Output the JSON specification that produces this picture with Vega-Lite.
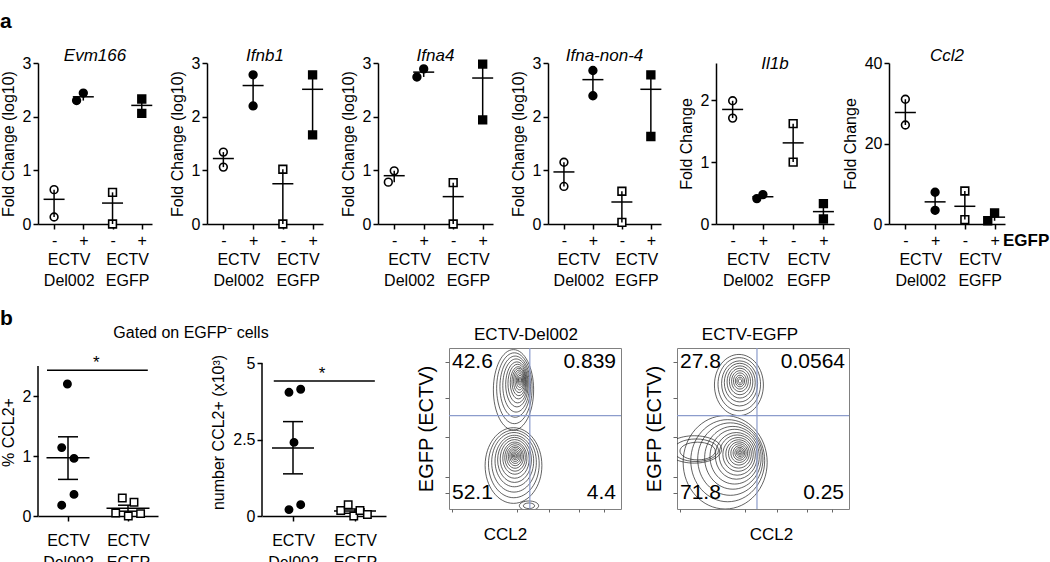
{
"$schema": "https://vega.github.io/schema/vega-lite/v6.json",
"background": "white",
"padding": {"left": 0, "top": 11, "right": 0, "bottom": 0},
"config": {
 "font": "Liberation Sans",
 "view": {"stroke": null},
 "axis": {"grid": false, "labelOverlap": false, "domainColor": "black", "domainWidth": 1.5, "tickColor": "black", "tickWidth": 1.5, "tickSize": 5, "labelFontSize": 16, "labelColor": "black", "titleFontSize": 16, "titleFontWeight": "normal", "titleColor": "black", "labelFont": "Liberation Sans", "titleFont": "Liberation Sans"},
 "title": {"fontSize": 17, "fontWeight": "normal", "font": "Liberation Sans", "color": "black"}
},
"resolve": {"scale": {"shape": "independent", "fill": "independent", "size": "independent"}},
"datasets": {
 "pa": [
  {"g":"Evm166","v":"Del002","e":"-","x":1,"y":0.64},{"g":"Evm166","v":"Del002","e":"-","x":1,"y":0.13},
  {"g":"Evm166","v":"Del002","e":"+","x":2,"y":2.44},{"g":"Evm166","v":"Del002","e":"+","x":1.77,"y":2.30},
  {"g":"Evm166","v":"EGFP","e":"-","x":3,"y":0.59},{"g":"Evm166","v":"EGFP","e":"-","x":3,"y":0.0},
  {"g":"Evm166","v":"EGFP","e":"+","x":4,"y":2.33},{"g":"Evm166","v":"EGFP","e":"+","x":4,"y":2.06},
  {"g":"Ifnb1","v":"Del002","e":"-","x":1,"y":1.34},{"g":"Ifnb1","v":"Del002","e":"-","x":1,"y":1.06},
  {"g":"Ifnb1","v":"Del002","e":"+","x":2,"y":2.78},{"g":"Ifnb1","v":"Del002","e":"+","x":2,"y":2.20},
  {"g":"Ifnb1","v":"EGFP","e":"-","x":3,"y":1.02},{"g":"Ifnb1","v":"EGFP","e":"-","x":3,"y":0.0},
  {"g":"Ifnb1","v":"EGFP","e":"+","x":4,"y":2.78},{"g":"Ifnb1","v":"EGFP","e":"+","x":4,"y":1.66},
  {"g":"Ifna4","v":"Del002","e":"-","x":1,"y":0.99},{"g":"Ifna4","v":"Del002","e":"-","x":0.8,"y":0.78},
  {"g":"Ifna4","v":"Del002","e":"+","x":2,"y":2.89},{"g":"Ifna4","v":"Del002","e":"+","x":1.77,"y":2.74},
  {"g":"Ifna4","v":"EGFP","e":"-","x":3,"y":0.77},{"g":"Ifna4","v":"EGFP","e":"-","x":3,"y":0.0},
  {"g":"Ifna4","v":"EGFP","e":"+","x":4,"y":2.98},{"g":"Ifna4","v":"EGFP","e":"+","x":4,"y":1.94},
  {"g":"Ifna-non-4","v":"Del002","e":"-","x":1,"y":1.15},{"g":"Ifna-non-4","v":"Del002","e":"-","x":1,"y":0.70},
  {"g":"Ifna-non-4","v":"Del002","e":"+","x":2,"y":2.86},{"g":"Ifna-non-4","v":"Del002","e":"+","x":2,"y":2.39},
  {"g":"Ifna-non-4","v":"EGFP","e":"-","x":3,"y":0.61},{"g":"Ifna-non-4","v":"EGFP","e":"-","x":3,"y":0.03},
  {"g":"Ifna-non-4","v":"EGFP","e":"+","x":4,"y":2.78},{"g":"Ifna-non-4","v":"EGFP","e":"+","x":4,"y":1.63},
  {"g":"Il1b","v":"Del002","e":"-","x":1,"y":1.99},{"g":"Il1b","v":"Del002","e":"-","x":1,"y":1.71},
  {"g":"Il1b","v":"Del002","e":"+","x":2,"y":0.475},{"g":"Il1b","v":"Del002","e":"+","x":1.8,"y":0.41},
  {"g":"Il1b","v":"EGFP","e":"-","x":3,"y":1.62},{"g":"Il1b","v":"EGFP","e":"-","x":3,"y":1.0},
  {"g":"Il1b","v":"EGFP","e":"+","x":4,"y":0.33},{"g":"Il1b","v":"EGFP","e":"+","x":4,"y":0.08},
  {"g":"Ccl2","v":"Del002","e":"-","x":1,"y":31.0},{"g":"Ccl2","v":"Del002","e":"-","x":1,"y":24.6},
  {"g":"Ccl2","v":"Del002","e":"+","x":2,"y":7.9},{"g":"Ccl2","v":"Del002","e":"+","x":2,"y":3.4},
  {"g":"Ccl2","v":"EGFP","e":"-","x":3,"y":8.2},{"g":"Ccl2","v":"EGFP","e":"-","x":3,"y":1.1},
  {"g":"Ccl2","v":"EGFP","e":"+","x":4,"y":2.75},{"g":"Ccl2","v":"EGFP","e":"+","x":3.77,"y":0.8}
 ],
 "sa": [
  {"g":"Evm166","x":1,"m":0.46,"lo":0.13,"hi":0.64},{"g":"Evm166","x":2,"m":2.37,"lo":2.30,"hi":2.44},{"g":"Evm166","x":3,"m":0.39,"lo":0,"hi":0.59},{"g":"Evm166","x":4,"m":2.21,"lo":2.06,"hi":2.33},
  {"g":"Ifnb1","x":1,"m":1.22,"lo":1.06,"hi":1.34},{"g":"Ifnb1","x":2,"m":2.58,"lo":2.20,"hi":2.78},{"g":"Ifnb1","x":3,"m":0.75,"lo":0,"hi":1.02},{"g":"Ifnb1","x":4,"m":2.51,"lo":1.66,"hi":2.78},
  {"g":"Ifna4","x":1,"m":0.90,"lo":0.78,"hi":0.99},{"g":"Ifna4","x":2,"m":2.83,"lo":2.74,"hi":2.89},{"g":"Ifna4","x":3,"m":0.51,"lo":0,"hi":0.77},{"g":"Ifna4","x":4,"m":2.72,"lo":1.94,"hi":2.98},
  {"g":"Ifna-non-4","x":1,"m":0.97,"lo":0.70,"hi":1.15},{"g":"Ifna-non-4","x":2,"m":2.69,"lo":2.39,"hi":2.86},{"g":"Ifna-non-4","x":3,"m":0.41,"lo":0.03,"hi":0.61},{"g":"Ifna-non-4","x":4,"m":2.51,"lo":1.63,"hi":2.78},
  {"g":"Il1b","x":1,"m":1.85,"lo":1.71,"hi":1.99},{"g":"Il1b","x":2,"m":0.44,"lo":0.41,"hi":0.475},{"g":"Il1b","x":3,"m":1.31,"lo":1.0,"hi":1.62},{"g":"Il1b","x":4,"m":0.20,"lo":0.08,"hi":0.33},
  {"g":"Ccl2","x":1,"m":27.7,"lo":24.6,"hi":31.0},{"g":"Ccl2","x":2,"m":5.5,"lo":3.4,"hi":7.9},{"g":"Ccl2","x":3,"m":4.4,"lo":1.1,"hi":8.2},{"g":"Ccl2","x":4,"m":1.7,"lo":0.8,"hi":2.75}
 ],
 "pb": [
  {"p":"pct","v":"Del002","x":0.99,"y":2.20},{"p":"pct","v":"Del002","x":0.895,"y":1.14},{"p":"pct","v":"Del002","x":1.1,"y":0.96},{"p":"pct","v":"Del002","x":1.1,"y":0.36},{"p":"pct","v":"Del002","x":0.895,"y":0.18},
  {"p":"pct","v":"EGFP","x":1.905,"y":0.30},{"p":"pct","v":"EGFP","x":2.1,"y":0.23},{"p":"pct","v":"EGFP","x":1.795,"y":0.05},{"p":"pct","v":"EGFP","x":2.005,"y":0.0},{"p":"pct","v":"EGFP","x":2.21,"y":0.04},
  {"p":"num","v":"Del002","x":0.935,"y":4.05},{"p":"num","v":"Del002","x":1.124,"y":4.15},{"p":"num","v":"Del002","x":1.016,"y":2.41},{"p":"num","v":"Del002","x":0.935,"y":0.21},{"p":"num","v":"Del002","x":1.124,"y":0.37},
  {"p":"num","v":"EGFP","x":1.77,"y":0.18},{"p":"num","v":"EGFP","x":1.89,"y":0.37},{"p":"num","v":"EGFP","x":1.98,"y":0.0},{"p":"num","v":"EGFP","x":2.08,"y":0.18},{"p":"num","v":"EGFP","x":2.2,"y":0.05}
 ],
 "sb": [
  {"p":"pct","x":1,"m":0.97,"lo":0.61,"hi":1.32},{"p":"pct","x":2,"m":0.13,"lo":0.08,"hi":0.18},
  {"p":"num","x":1,"m":2.23,"lo":1.38,"hi":3.09},{"p":"num","x":2,"m":0.16,"lo":0.09,"hi":0.23}
 ],
 "sig": [
  {"p":"pct","x1":0.65,"x2":2.33,"xs":1.47,"y":2.43},
  {"p":"num","x1":0.69,"x2":2.32,"xs":1.47,"y":4.42}
 ],
 "rings": [
  {"p":"Del002","pop":"D_top","s":0.25,"x":0.375,"y":0.74},{"p":"Del002","pop":"D_top","s":0.22,"x":0.38,"y":0.75},{"p":"Del002","pop":"D_top","s":0.19,"x":0.385,"y":0.76},{"p":"Del002","pop":"D_top","s":0.165,"x":0.39,"y":0.767},{"p":"Del002","pop":"D_top","s":0.14,"x":0.395,"y":0.774},{"p":"Del002","pop":"D_top","s":0.12,"x":0.399,"y":0.779},{"p":"Del002","pop":"D_top","s":0.10,"x":0.403,"y":0.784},{"p":"Del002","pop":"D_top","s":0.085,"x":0.406,"y":0.789},{"p":"Del002","pop":"D_top","s":0.07,"x":0.408,"y":0.793},{"p":"Del002","pop":"D_top","s":0.056,"x":0.41,"y":0.796},{"p":"Del002","pop":"D_top","s":0.043,"x":0.412,"y":0.798},{"p":"Del002","pop":"D_top","s":0.031,"x":0.413,"y":0.8},{"p":"Del002","pop":"D_top","s":0.02,"x":0.413,"y":0.8},{"p":"Del002","pop":"D_top","s":0.011,"x":0.413,"y":0.8},
  {"p":"Del002","pop":"D_bot","s":0.235,"x":0.375,"y":0.27},{"p":"Del002","pop":"D_bot","s":0.21,"x":0.377,"y":0.28},{"p":"Del002","pop":"D_bot","s":0.185,"x":0.378,"y":0.29},{"p":"Del002","pop":"D_bot","s":0.16,"x":0.38,"y":0.298},{"p":"Del002","pop":"D_bot","s":0.14,"x":0.381,"y":0.305},{"p":"Del002","pop":"D_bot","s":0.12,"x":0.382,"y":0.311},{"p":"Del002","pop":"D_bot","s":0.10,"x":0.383,"y":0.316},{"p":"Del002","pop":"D_bot","s":0.085,"x":0.384,"y":0.32},{"p":"Del002","pop":"D_bot","s":0.07,"x":0.384,"y":0.323},{"p":"Del002","pop":"D_bot","s":0.057,"x":0.385,"y":0.326},{"p":"Del002","pop":"D_bot","s":0.045,"x":0.385,"y":0.328},{"p":"Del002","pop":"D_bot","s":0.034,"x":0.385,"y":0.329},{"p":"Del002","pop":"D_bot","s":0.024,"x":0.385,"y":0.33},{"p":"Del002","pop":"D_bot","s":0.015,"x":0.385,"y":0.33},{"p":"Del002","pop":"D_bot","s":0.008,"x":0.385,"y":0.33},
  {"p":"Del002","pop":"D_deb","s":0.06,"x":0.465,"y":0.02},{"p":"Del002","pop":"D_deb","s":0.035,"x":0.465,"y":0.02},
  {"p":"EGFP","pop":"E_top","s":0.19,"x":0.36,"y":0.77},{"p":"EGFP","pop":"E_top","s":0.165,"x":0.362,"y":0.775},{"p":"EGFP","pop":"E_top","s":0.14,"x":0.364,"y":0.78},{"p":"EGFP","pop":"E_top","s":0.12,"x":0.365,"y":0.785},{"p":"EGFP","pop":"E_top","s":0.10,"x":0.366,"y":0.789},{"p":"EGFP","pop":"E_top","s":0.082,"x":0.366,"y":0.792},{"p":"EGFP","pop":"E_top","s":0.065,"x":0.366,"y":0.794},{"p":"EGFP","pop":"E_top","s":0.05,"x":0.366,"y":0.795},{"p":"EGFP","pop":"E_top","s":0.036,"x":0.366,"y":0.795},{"p":"EGFP","pop":"E_top","s":0.024,"x":0.366,"y":0.795},{"p":"EGFP","pop":"E_top","s":0.013,"x":0.366,"y":0.795},
  {"p":"EGFP","pop":"E_bot","s":0.29,"x":0.28,"y":0.29},{"p":"EGFP","pop":"E_bot","s":0.255,"x":0.295,"y":0.30},{"p":"EGFP","pop":"E_bot","s":0.225,"x":0.31,"y":0.31},{"p":"EGFP","pop":"E_bot","s":0.195,"x":0.325,"y":0.318},{"p":"EGFP","pop":"E_bot","s":0.17,"x":0.335,"y":0.325},{"p":"EGFP","pop":"E_bot","s":0.145,"x":0.345,"y":0.33},{"p":"EGFP","pop":"E_bot","s":0.125,"x":0.35,"y":0.335},{"p":"EGFP","pop":"E_bot","s":0.105,"x":0.355,"y":0.339},{"p":"EGFP","pop":"E_bot","s":0.088,"x":0.358,"y":0.342},{"p":"EGFP","pop":"E_bot","s":0.072,"x":0.36,"y":0.345},{"p":"EGFP","pop":"E_bot","s":0.058,"x":0.362,"y":0.347},{"p":"EGFP","pop":"E_bot","s":0.045,"x":0.364,"y":0.348},{"p":"EGFP","pop":"E_bot","s":0.034,"x":0.365,"y":0.349},{"p":"EGFP","pop":"E_bot","s":0.024,"x":0.366,"y":0.35},{"p":"EGFP","pop":"E_bot","s":0.015,"x":0.366,"y":0.35},{"p":"EGFP","pop":"E_bot","s":0.008,"x":0.366,"y":0.35},
  {"p":"EGFP","pop":"E_tail","s":0.17,"x":0.1,"y":0.37},{"p":"EGFP","pop":"E_tail","s":0.14,"x":0.11,"y":0.365},{"p":"EGFP","pop":"E_tail","s":0.11,"x":0.12,"y":0.36}
 ],
 "gates": [{"p":"Del002","gx":0.47,"gy":0.58},{"p":"EGFP","gx":0.465,"gy":0.58}],
 "quads": [
  {"p":"Del002","q":"UL","t":"42.6"},{"p":"Del002","q":"UR","t":"0.839"},{"p":"Del002","q":"LL","t":"52.1"},{"p":"Del002","q":"LR","t":"4.4"},
  {"p":"EGFP","q":"UL","t":"27.8"},{"p":"EGFP","q":"UR","t":"0.0564"},{"p":"EGFP","q":"LL","t":"71.8"},{"p":"EGFP","q":"LR","t":"0.25"}
 ]
},
"vconcat": [
 {
  "title": {"text": "a", "anchor": "start", "fontSize": 21, "fontWeight": "bold", "offset": 15},
  "spacing": 55, "bounds": "flush",
  "resolve": {"scale": {"shape": "independent", "fill": "independent"}},
  "hconcat": [
   {"width": 114, "height": 161, "title": {"text": "Evm166", "fontStyle": "italic", "frame": "group", "offset": -10},
    "resolve": {"scale": {"x": "independent"}},
    "layer": [
     {"layer": [
      {"data": {"name": "pa"}, "transform": [{"filter": "datum.g == 'Evm166'"}], "mark": {"type": "point", "filled": true, "size": 60, "stroke": "black", "strokeWidth": 1.6, "opacity": 1},
       "encoding": {"x": {"field": "x", "type": "quantitative", "scale": {"domain": [0.45, 4.35], "zero": false, "nice": false}, "axis": {"title": null, "values": [1, 3], "labelExpr": "'-'", "labelFlush": false, "labelBaseline": "top", "labelPadding": 3}}, "y": {"field": "y", "type": "quantitative"},
        "shape": {"field": "v", "type": "nominal", "scale": {"domain": ["Del002", "EGFP"], "range": ["circle", "square"]}, "legend": null},
        "fill": {"field": "e", "type": "nominal", "scale": {"domain": ["-", "+"], "range": ["white", "black"]}, "legend": null}}}
     ]},
     {"data": {"name": "sa"}, "transform": [{"filter": "datum.g == 'Evm166'"}], "mark": {"type": "rule", "color": "black", "strokeWidth": 1.5},
      "encoding": {"x": {"field": "x", "type": "quantitative", "scale": {"domain": [0.45, 4.35], "zero": false, "nice": false}, "axis": {"orient": "bottom", "title": null, "values": [2, 4], "domain": false, "labelExpr": "'+'", "labelFlush": false, "labelBaseline": "top", "labelPadding": 3}},
       "y": {"field": "lo", "type": "quantitative", "scale": {"domain": [0, 3]}, "axis": {"values": [0, 1, 2, 3], "labelExpr": "'' + datum.value", "title": "Fold Change (log10)", "labelPadding": 2, "titlePadding": 6}}, "y2": {"field": "hi"}}},
     {"data": {"name": "sa"}, "transform": [{"filter": "datum.g == 'Evm166'"}], "mark": {"type": "tick", "orient": "horizontal", "size": 21, "thickness": 1.5, "color": "black", "opacity": 1},
      "encoding": {"x": {"field": "x", "type": "quantitative", "scale": {"domain": [0.45, 4.35], "zero": false, "nice": false}, "axis": {"orient": "bottom", "title": null, "values": [1.5, 3.5], "domain": false, "tickOpacity": 0, "labelExpr": "datum.value == 1.5 ? ['ECTV', 'Del002'] : ['ECTV', 'EGFP']", "labelFlush": false, "labelOverlap": false, "labelBaseline": "top", "labelLineHeight": 21, "labelPadding": 22}}, "y": {"field": "m", "type": "quantitative"}}}
    ]},
   {"width": 116, "height": 161, "title": {"text": "Ifnb1", "fontStyle": "italic", "frame": "group", "offset": -10},
    "resolve": {"scale": {"x": "independent"}},
    "layer": [
     {"layer": [
      {"data": {"name": "pa"}, "transform": [{"filter": "datum.g == 'Ifnb1'"}], "mark": {"type": "point", "filled": true, "size": 60, "stroke": "black", "strokeWidth": 1.6, "opacity": 1},
       "encoding": {"x": {"field": "x", "type": "quantitative", "scale": {"domain": [0.45, 4.35], "zero": false, "nice": false}, "axis": {"title": null, "values": [1, 3], "labelExpr": "'-'", "labelFlush": false, "labelBaseline": "top", "labelPadding": 3}}, "y": {"field": "y", "type": "quantitative"},
        "shape": {"field": "v", "type": "nominal", "scale": {"domain": ["Del002", "EGFP"], "range": ["circle", "square"]}, "legend": null},
        "fill": {"field": "e", "type": "nominal", "scale": {"domain": ["-", "+"], "range": ["white", "black"]}, "legend": null}}}
     ]},
     {"data": {"name": "sa"}, "transform": [{"filter": "datum.g == 'Ifnb1'"}], "mark": {"type": "rule", "color": "black", "strokeWidth": 1.5},
      "encoding": {"x": {"field": "x", "type": "quantitative", "scale": {"domain": [0.45, 4.35], "zero": false, "nice": false}, "axis": {"orient": "bottom", "title": null, "values": [2, 4], "domain": false, "labelExpr": "'+'", "labelFlush": false, "labelBaseline": "top", "labelPadding": 3}},
       "y": {"field": "lo", "type": "quantitative", "scale": {"domain": [0, 3]}, "axis": {"values": [0, 1, 2, 3], "labelExpr": "'' + datum.value", "title": "Fold Change (log10)", "labelPadding": 2, "titlePadding": 6}}, "y2": {"field": "hi"}}},
     {"data": {"name": "sa"}, "transform": [{"filter": "datum.g == 'Ifnb1'"}], "mark": {"type": "tick", "orient": "horizontal", "size": 21, "thickness": 1.5, "color": "black", "opacity": 1},
      "encoding": {"x": {"field": "x", "type": "quantitative", "scale": {"domain": [0.45, 4.35], "zero": false, "nice": false}, "axis": {"orient": "bottom", "title": null, "values": [1.5, 3.5], "domain": false, "tickOpacity": 0, "labelExpr": "datum.value == 1.5 ? ['ECTV', 'Del002'] : ['ECTV', 'EGFP']", "labelFlush": false, "labelOverlap": false, "labelBaseline": "top", "labelLineHeight": 21, "labelPadding": 22}}, "y": {"field": "m", "type": "quantitative"}}}
    ]},
   {"width": 115, "height": 161, "title": {"text": "Ifna4", "fontStyle": "italic", "frame": "group", "offset": -10},
    "resolve": {"scale": {"x": "independent"}},
    "layer": [
     {"layer": [
      {"data": {"name": "pa"}, "transform": [{"filter": "datum.g == 'Ifna4'"}], "mark": {"type": "point", "filled": true, "size": 60, "stroke": "black", "strokeWidth": 1.6, "opacity": 1},
       "encoding": {"x": {"field": "x", "type": "quantitative", "scale": {"domain": [0.45, 4.35], "zero": false, "nice": false}, "axis": {"title": null, "values": [1, 3], "labelExpr": "'-'", "labelFlush": false, "labelBaseline": "top", "labelPadding": 3}}, "y": {"field": "y", "type": "quantitative"},
        "shape": {"field": "v", "type": "nominal", "scale": {"domain": ["Del002", "EGFP"], "range": ["circle", "square"]}, "legend": null},
        "fill": {"field": "e", "type": "nominal", "scale": {"domain": ["-", "+"], "range": ["white", "black"]}, "legend": null}}}
     ]},
     {"data": {"name": "sa"}, "transform": [{"filter": "datum.g == 'Ifna4'"}], "mark": {"type": "rule", "color": "black", "strokeWidth": 1.5},
      "encoding": {"x": {"field": "x", "type": "quantitative", "scale": {"domain": [0.45, 4.35], "zero": false, "nice": false}, "axis": {"orient": "bottom", "title": null, "values": [2, 4], "domain": false, "labelExpr": "'+'", "labelFlush": false, "labelBaseline": "top", "labelPadding": 3}},
       "y": {"field": "lo", "type": "quantitative", "scale": {"domain": [0, 3]}, "axis": {"values": [0, 1, 2, 3], "labelExpr": "'' + datum.value", "title": "Fold Change (log10)", "labelPadding": 2, "titlePadding": 6}}, "y2": {"field": "hi"}}},
     {"data": {"name": "sa"}, "transform": [{"filter": "datum.g == 'Ifna4'"}], "mark": {"type": "tick", "orient": "horizontal", "size": 21, "thickness": 1.5, "color": "black", "opacity": 1},
      "encoding": {"x": {"field": "x", "type": "quantitative", "scale": {"domain": [0.45, 4.35], "zero": false, "nice": false}, "axis": {"orient": "bottom", "title": null, "values": [1.5, 3.5], "domain": false, "tickOpacity": 0, "labelExpr": "datum.value == 1.5 ? ['ECTV', 'Del002'] : ['ECTV', 'EGFP']", "labelFlush": false, "labelOverlap": false, "labelBaseline": "top", "labelLineHeight": 21, "labelPadding": 22}}, "y": {"field": "m", "type": "quantitative"}}}
    ]},
   {"width": 113, "height": 161, "title": {"text": "Ifna-non-4", "fontStyle": "italic", "frame": "group", "offset": -10},
    "resolve": {"scale": {"x": "independent"}},
    "layer": [
     {"layer": [
      {"data": {"name": "pa"}, "transform": [{"filter": "datum.g == 'Ifna-non-4'"}], "mark": {"type": "point", "filled": true, "size": 60, "stroke": "black", "strokeWidth": 1.6, "opacity": 1},
       "encoding": {"x": {"field": "x", "type": "quantitative", "scale": {"domain": [0.45, 4.35], "zero": false, "nice": false}, "axis": {"title": null, "values": [1, 3], "labelExpr": "'-'", "labelFlush": false, "labelBaseline": "top", "labelPadding": 3}}, "y": {"field": "y", "type": "quantitative"},
        "shape": {"field": "v", "type": "nominal", "scale": {"domain": ["Del002", "EGFP"], "range": ["circle", "square"]}, "legend": null},
        "fill": {"field": "e", "type": "nominal", "scale": {"domain": ["-", "+"], "range": ["white", "black"]}, "legend": null}}}
     ]},
     {"data": {"name": "sa"}, "transform": [{"filter": "datum.g == 'Ifna-non-4'"}], "mark": {"type": "rule", "color": "black", "strokeWidth": 1.5},
      "encoding": {"x": {"field": "x", "type": "quantitative", "scale": {"domain": [0.45, 4.35], "zero": false, "nice": false}, "axis": {"orient": "bottom", "title": null, "values": [2, 4], "domain": false, "labelExpr": "'+'", "labelFlush": false, "labelBaseline": "top", "labelPadding": 3}},
       "y": {"field": "lo", "type": "quantitative", "scale": {"domain": [0, 3]}, "axis": {"values": [0, 1, 2, 3], "labelExpr": "'' + datum.value", "title": "Fold Change (log10)", "labelPadding": 2, "titlePadding": 6}}, "y2": {"field": "hi"}}},
     {"data": {"name": "sa"}, "transform": [{"filter": "datum.g == 'Ifna-non-4'"}], "mark": {"type": "tick", "orient": "horizontal", "size": 21, "thickness": 1.5, "color": "black", "opacity": 1},
      "encoding": {"x": {"field": "x", "type": "quantitative", "scale": {"domain": [0.45, 4.35], "zero": false, "nice": false}, "axis": {"orient": "bottom", "title": null, "values": [1.5, 3.5], "domain": false, "tickOpacity": 0, "labelExpr": "datum.value == 1.5 ? ['ECTV', 'Del002'] : ['ECTV', 'EGFP']", "labelFlush": false, "labelOverlap": false, "labelBaseline": "top", "labelLineHeight": 21, "labelPadding": 22}}, "y": {"field": "m", "type": "quantitative"}}}
    ]},
   {"width": 118, "height": 161, "title": {"text": "Il1b", "fontStyle": "italic", "frame": "group", "offset": -10},
    "resolve": {"scale": {"x": "independent"}},
    "layer": [
     {"layer": [
      {"data": {"name": "pa"}, "transform": [{"filter": "datum.g == 'Il1b'"}], "mark": {"type": "point", "filled": true, "size": 60, "stroke": "black", "strokeWidth": 1.6, "opacity": 1},
       "encoding": {"x": {"field": "x", "type": "quantitative", "scale": {"domain": [0.45, 4.35], "zero": false, "nice": false}, "axis": {"title": null, "values": [1, 3], "labelExpr": "'-'", "labelFlush": false, "labelBaseline": "top", "labelPadding": 3}}, "y": {"field": "y", "type": "quantitative"},
        "shape": {"field": "v", "type": "nominal", "scale": {"domain": ["Del002", "EGFP"], "range": ["circle", "square"]}, "legend": null},
        "fill": {"field": "e", "type": "nominal", "scale": {"domain": ["-", "+"], "range": ["white", "black"]}, "legend": null}}}
     ]},
     {"data": {"name": "sa"}, "transform": [{"filter": "datum.g == 'Il1b'"}], "mark": {"type": "rule", "color": "black", "strokeWidth": 1.5},
      "encoding": {"x": {"field": "x", "type": "quantitative", "scale": {"domain": [0.45, 4.35], "zero": false, "nice": false}, "axis": {"orient": "bottom", "title": null, "values": [2, 4], "domain": false, "labelExpr": "'+'", "labelFlush": false, "labelBaseline": "top", "labelPadding": 3}},
       "y": {"field": "lo", "type": "quantitative", "scale": {"domain": [0, 2.5]}, "axis": {"values": [0, 1, 2], "labelExpr": "'' + datum.value", "title": "Fold Change", "labelPadding": 2, "titlePadding": 6}}, "y2": {"field": "hi"}}},
     {"data": {"name": "sa"}, "transform": [{"filter": "datum.g == 'Il1b'"}], "mark": {"type": "tick", "orient": "horizontal", "size": 21, "thickness": 1.5, "color": "black", "opacity": 1},
      "encoding": {"x": {"field": "x", "type": "quantitative", "scale": {"domain": [0.45, 4.35], "zero": false, "nice": false}, "axis": {"orient": "bottom", "title": null, "values": [1.5, 3.5], "domain": false, "tickOpacity": 0, "labelExpr": "datum.value == 1.5 ? ['ECTV', 'Del002'] : ['ECTV', 'EGFP']", "labelFlush": false, "labelOverlap": false, "labelBaseline": "top", "labelLineHeight": 21, "labelPadding": 22}}, "y": {"field": "m", "type": "quantitative"}}}
    ]},
   {"width": 116, "height": 161, "title": {"text": "Ccl2", "fontStyle": "italic", "frame": "group", "offset": -10},
    "resolve": {"scale": {"x": "independent"}},
    "layer": [
     {"layer": [
      {"data": {"name": "pa"}, "transform": [{"filter": "datum.g == 'Ccl2'"}], "mark": {"type": "point", "filled": true, "size": 60, "stroke": "black", "strokeWidth": 1.6, "opacity": 1},
       "encoding": {"x": {"field": "x", "type": "quantitative", "scale": {"domain": [0.45, 4.35], "zero": false, "nice": false}, "axis": {"title": null, "values": [1, 3], "labelExpr": "'-'", "labelFlush": false, "labelBaseline": "top", "labelPadding": 3}}, "y": {"field": "y", "type": "quantitative"},
        "shape": {"field": "v", "type": "nominal", "scale": {"domain": ["Del002", "EGFP"], "range": ["circle", "square"]}, "legend": null},
        "fill": {"field": "e", "type": "nominal", "scale": {"domain": ["-", "+"], "range": ["white", "black"]}, "legend": null}}},
      {"data": {"values": [{"t": "EGFP"}]}, "mark": {"type": "text", "align": "left", "baseline": "middle", "fontWeight": "bold", "fontSize": 17, "dx": -2, "dy": 17, "color": "black"},
       "encoding": {"x": {"datum": 4.35, "type": "quantitative"}, "y": {"datum": 0, "type": "quantitative"}, "text": {"field": "t"}}}
     ]},
     {"data": {"name": "sa"}, "transform": [{"filter": "datum.g == 'Ccl2'"}], "mark": {"type": "rule", "color": "black", "strokeWidth": 1.5},
      "encoding": {"x": {"field": "x", "type": "quantitative", "scale": {"domain": [0.45, 4.35], "zero": false, "nice": false}, "axis": {"orient": "bottom", "title": null, "values": [2, 4], "domain": false, "labelExpr": "'+'", "labelFlush": false, "labelBaseline": "top", "labelPadding": 3}},
       "y": {"field": "lo", "type": "quantitative", "scale": {"domain": [0, 40]}, "axis": {"values": [0, 20, 40], "labelExpr": "'' + datum.value", "title": "Fold Change", "labelPadding": 2, "titlePadding": 6}}, "y2": {"field": "hi"}}},
     {"data": {"name": "sa"}, "transform": [{"filter": "datum.g == 'Ccl2'"}], "mark": {"type": "tick", "orient": "horizontal", "size": 21, "thickness": 1.5, "color": "black", "opacity": 1},
      "encoding": {"x": {"field": "x", "type": "quantitative", "scale": {"domain": [0.45, 4.35], "zero": false, "nice": false}, "axis": {"orient": "bottom", "title": null, "values": [1.5, 3.5], "domain": false, "tickOpacity": 0, "labelExpr": "datum.value == 1.5 ? ['ECTV', 'Del002'] : ['ECTV', 'EGFP']", "labelFlush": false, "labelOverlap": false, "labelBaseline": "top", "labelLineHeight": 21, "labelPadding": 22}}, "y": {"field": "m", "type": "quantitative"}}}
    ]}
  ]
 },
 {
  "title": {"text": "b", "anchor": "start", "fontSize": 21, "fontWeight": "bold", "offset": -4},
  "spacing": 29,
  "resolve": {"scale": {"shape": "independent", "fill": "independent", "size": "independent"}},
  "hconcat": [
   {"spacing": 104, "bounds": "flush",
    "resolve": {"scale": {"shape": "independent", "fill": "independent"}},
    "hconcat": [
     {"width": 120, "height": 168, "title": {"text": "Gated on EGFP⁻ cells", "fontSize": 16, "dx": 93, "frame": "group", "offset": 7},
      "layer": [
       {"data": {"values": [{}]}, "mark": {"type": "rule", "color": "black", "strokeWidth": 1.5}, "encoding": {"x": {"datum": 0.5, "type": "quantitative"}, "y": {"datum": 0, "type": "quantitative"}, "y2": {"datum": 2.5}}},
       {"data": {"name": "sig"}, "transform": [{"filter": "datum.p == 'pct'"}], "mark": {"type": "rule", "color": "black", "strokeWidth": 1.5}, "encoding": {"x": {"field": "x1", "type": "quantitative"}, "x2": {"field": "x2"}, "y": {"field": "y", "type": "quantitative"}}},
       {"data": {"name": "sig"}, "transform": [{"filter": "datum.p == 'pct'"}], "mark": {"type": "text", "text": "*", "fontSize": 17, "baseline": "alphabetic", "dy": -2, "color": "black"}, "encoding": {"x": {"field": "xs", "type": "quantitative"}, "y": {"field": "y", "type": "quantitative"}}},
       {"data": {"name": "sb"}, "transform": [{"filter": "datum.p == 'pct'"}], "mark": {"type": "rule", "color": "black", "strokeWidth": 1.5}, "encoding": {"x": {"field": "x", "type": "quantitative"}, "y": {"field": "lo", "type": "quantitative"}, "y2": {"field": "hi"}}},
       {"data": {"name": "sb"}, "transform": [{"filter": "datum.p == 'pct'"}], "mark": {"type": "tick", "orient": "horizontal", "size": 20, "thickness": 1.5, "color": "black", "opacity": 1}, "encoding": {"x": {"field": "x", "type": "quantitative"}, "y": {"field": "lo", "type": "quantitative"}}},
       {"data": {"name": "sb"}, "transform": [{"filter": "datum.p == 'pct'"}], "mark": {"type": "tick", "orient": "horizontal", "size": 20, "thickness": 1.5, "color": "black", "opacity": 1}, "encoding": {"x": {"field": "x", "type": "quantitative"}, "y": {"field": "hi", "type": "quantitative"}}},
       {"data": {"name": "sb"}, "transform": [{"filter": "datum.p == 'pct'"}], "mark": {"type": "tick", "orient": "horizontal", "size": 43, "thickness": 1.5, "color": "black", "opacity": 1}, "encoding": {"x": {"field": "x", "type": "quantitative"}, "y": {"field": "m", "type": "quantitative"}}},
       {"data": {"name": "pb"}, "transform": [{"filter": "datum.p == 'pct'"}], "mark": {"type": "point", "filled": true, "size": 55, "stroke": "black", "strokeWidth": 1.5, "opacity": 1},
        "encoding": {
         "x": {"field": "x", "type": "quantitative", "scale": {"domain": [0.5, 2.5], "zero": false, "nice": false}, "axis": {"title": null, "values": [1, 2], "labelExpr": "datum.value == 1 ? ['ECTV', 'Del002'] : ['ECTV', 'EGFP']", "labelOverlap": false, "labelFlush": false, "labelBound": false, "labelBaseline": "top", "labelLineHeight": 22, "labelPadding": 11}},
         "y": {"field": "y", "type": "quantitative", "scale": {"domain": [0, 2.625]}, "axis": {"values": [0, 1, 2], "labelExpr": "'' + datum.value", "title": "% CCL2+", "domain": false, "labelPadding": 2, "titlePadding": 6}},
         "shape": {"field": "v", "type": "nominal", "scale": {"domain": ["Del002", "EGFP"], "range": ["circle", "square"]}, "legend": null},
         "fill": {"field": "v", "type": "nominal", "scale": {"domain": ["Del002", "EGFP"], "range": ["black", "white"]}, "legend": null}}}
      ]},
     {"width": 124, "height": 168,
      "layer": [
       {"data": {"values": [{}]}, "mark": {"type": "rule", "color": "black", "strokeWidth": 1.5}, "encoding": {"x": {"datum": 0.5, "type": "quantitative"}, "y": {"datum": 0, "type": "quantitative"}, "y2": {"datum": 5}}},
       {"data": {"name": "sig"}, "transform": [{"filter": "datum.p == 'num'"}], "mark": {"type": "rule", "color": "black", "strokeWidth": 1.5}, "encoding": {"x": {"field": "x1", "type": "quantitative"}, "x2": {"field": "x2"}, "y": {"field": "y", "type": "quantitative"}}},
       {"data": {"name": "sig"}, "transform": [{"filter": "datum.p == 'num'"}], "mark": {"type": "text", "text": "*", "fontSize": 17, "baseline": "alphabetic", "dy": -2, "color": "black"}, "encoding": {"x": {"field": "xs", "type": "quantitative"}, "y": {"field": "y", "type": "quantitative"}}},
       {"data": {"name": "sb"}, "transform": [{"filter": "datum.p == 'num'"}], "mark": {"type": "rule", "color": "black", "strokeWidth": 1.5}, "encoding": {"x": {"field": "x", "type": "quantitative"}, "y": {"field": "lo", "type": "quantitative"}, "y2": {"field": "hi"}}},
       {"data": {"name": "sb"}, "transform": [{"filter": "datum.p == 'num'"}], "mark": {"type": "tick", "orient": "horizontal", "size": 20, "thickness": 1.5, "color": "black", "opacity": 1}, "encoding": {"x": {"field": "x", "type": "quantitative"}, "y": {"field": "lo", "type": "quantitative"}}},
       {"data": {"name": "sb"}, "transform": [{"filter": "datum.p == 'num'"}], "mark": {"type": "tick", "orient": "horizontal", "size": 20, "thickness": 1.5, "color": "black", "opacity": 1}, "encoding": {"x": {"field": "x", "type": "quantitative"}, "y": {"field": "hi", "type": "quantitative"}}},
       {"data": {"name": "sb"}, "transform": [{"filter": "datum.p == 'num'"}], "mark": {"type": "tick", "orient": "horizontal", "size": 42, "thickness": 1.5, "color": "black", "opacity": 1}, "encoding": {"x": {"field": "x", "type": "quantitative"}, "y": {"field": "m", "type": "quantitative"}}},
       {"data": {"name": "pb"}, "transform": [{"filter": "datum.p == 'num'"}], "mark": {"type": "point", "filled": true, "size": 55, "stroke": "black", "strokeWidth": 1.5, "opacity": 1},
        "encoding": {
         "x": {"field": "x", "type": "quantitative", "scale": {"domain": [0.5, 2.5], "zero": false, "nice": false}, "axis": {"title": null, "values": [1, 2], "labelExpr": "datum.value == 1 ? ['ECTV', 'Del002'] : ['ECTV', 'EGFP']", "labelOverlap": false, "labelFlush": false, "labelBound": false, "labelBaseline": "top", "labelLineHeight": 22, "labelPadding": 11}},
         "y": {"field": "y", "type": "quantitative", "scale": {"domain": [0, 5.25]}, "axis": {"values": [0, 2.5, 5], "labelExpr": "'' + datum.value", "title": "number CCL2+ (x10³)", "domain": false, "labelPadding": 2, "titlePadding": 6}},
         "shape": {"field": "v", "type": "nominal", "scale": {"domain": ["Del002", "EGFP"], "range": ["circle", "square"]}, "legend": null},
         "fill": {"field": "v", "type": "nominal", "scale": {"domain": ["Del002", "EGFP"], "range": ["black", "white"]}, "legend": null}}}
      ]}
    ]},
   {"spacing": 56, "bounds": "flush",
    "resolve": {"scale": {"shape": "independent", "size": "independent"}},
    "hconcat": [
     {"width": 172, "height": 161, "view": {"stroke": "#808080", "strokeWidth": 1}, "title": {"text": "ECTV-Del002", "fontSize": 17, "frame": "group", "offset": 3, "dx": -9},
      "layer": [
       {"data": {"name": "rings"}, "transform": [{"filter": "datum.p == 'Del002'"}], "mark": {"type": "point", "filled": false, "color": "#1e1e1e", "strokeWidth": 0.7, "opacity": 1, "clip": true},
        "encoding": {
         "x": {"field": "x", "type": "quantitative", "scale": {"domain": [0, 1]}, "axis": {"title": "CCL2", "titleFontSize": 17, "titleX": 56, "titlePadding": 14, "labels": false, "domain": false, "tickColor": "#666", "tickWidth": 1, "tickSize": 3, "values": [0.02,0.1,0.16,0.2,0.23,0.27,0.333,0.37,0.396,0.417,0.433,0.447,0.46,0.47,0.48,0.543,0.58,0.606,0.627,0.643,0.657,0.67,0.68,0.69,0.753,0.79,0.816,0.837,0.853,0.867,0.88,0.89,0.9,0.963]}},
         "y": {"field": "y", "type": "quantitative", "scale": {"domain": [0, 1]}, "axis": {"title": "EGFP (ECTV)", "titleFontSize": 20, "titlePadding": 8, "labels": false, "domain": false, "tickColor": "#666", "tickWidth": 1, "tickSize": 4, "values": [0.1, 0.2, 0.45, 0.69, 0.91]}},
         "size": {"field": "s", "type": "quantitative", "scale": {"type": "pow", "exponent": 2, "domain": [0, 0.5], "range": [0, 25921]}, "legend": null},
         "shape": {"field": "pop", "type": "nominal", "scale": {"domain": ["D_top", "D_bot", "D_deb"], "range": ["M 0.5 0 C 0.5 0.552 0.276 1 0 1 C -0.276 1 -0.5 0.552 -0.5 0 C -0.5 -0.552 -0.276 -1 0 -1 C 0.276 -1 0.5 -0.552 0.5 0 Z", "M 0.75 0 C 0.75 0.552 0.414 1 0 1 C -0.414 1 -0.75 0.552 -0.75 0 C -0.75 -0.552 -0.414 -1 0 -1 C 0.414 -1 0.75 -0.552 0.75 0 Z", "M 1 0 C 1 0.276 0.552 0.5 0 0.5 C -0.552 0.5 -1 0.276 -1 0 C -1 -0.276 -0.552 -0.5 0 -0.5 C 0.552 -0.5 1 -0.276 1 0 Z"]}, "legend": null}}},
       {"data": {"name": "gates"}, "transform": [{"filter": "datum.p == 'Del002'"}], "mark": {"type": "rule", "color": "#8c9ccc", "strokeWidth": 1.2}, "encoding": {"x": {"field": "gx", "type": "quantitative"}}},
       {"data": {"name": "gates"}, "transform": [{"filter": "datum.p == 'Del002'"}], "mark": {"type": "rule", "color": "#8c9ccc", "strokeWidth": 1.2}, "encoding": {"y": {"field": "gy", "type": "quantitative"}}},
       {"data": {"name": "quads"}, "transform": [{"filter": "datum.p == 'Del002' && datum.q == 'UL'"}], "mark": {"type": "text", "align": "left", "baseline": "middle", "fontSize": 21, "dx": 3, "dy": 14, "color": "black"}, "encoding": {"x": {"datum": 0, "type": "quantitative"}, "y": {"datum": 1, "type": "quantitative"}, "text": {"field": "t"}}},
       {"data": {"name": "quads"}, "transform": [{"filter": "datum.p == 'Del002' && datum.q == 'UR'"}], "mark": {"type": "text", "align": "right", "baseline": "middle", "fontSize": 21, "dx": -5, "dy": 14, "color": "black"}, "encoding": {"x": {"datum": 1, "type": "quantitative"}, "y": {"datum": 1, "type": "quantitative"}, "text": {"field": "t"}}},
       {"data": {"name": "quads"}, "transform": [{"filter": "datum.p == 'Del002' && datum.q == 'LL'"}], "mark": {"type": "text", "align": "left", "baseline": "middle", "fontSize": 21, "dx": 3, "dy": -16, "color": "black"}, "encoding": {"x": {"datum": 0, "type": "quantitative"}, "y": {"datum": 0, "type": "quantitative"}, "text": {"field": "t"}}},
       {"data": {"name": "quads"}, "transform": [{"filter": "datum.p == 'Del002' && datum.q == 'LR'"}], "mark": {"type": "text", "align": "right", "baseline": "middle", "fontSize": 21, "dx": -5, "dy": -16, "color": "black"}, "encoding": {"x": {"datum": 1, "type": "quantitative"}, "y": {"datum": 0, "type": "quantitative"}, "text": {"field": "t"}}}
      ]},
     {"width": 172, "height": 161, "view": {"stroke": "#808080", "strokeWidth": 1}, "title": {"text": "ECTV-EGFP", "fontSize": 17, "frame": "group", "offset": 3, "dx": -13},
      "layer": [
       {"data": {"name": "rings"}, "transform": [{"filter": "datum.p == 'EGFP'"}], "mark": {"type": "point", "filled": false, "color": "#1e1e1e", "strokeWidth": 0.7, "opacity": 1, "clip": true},
        "encoding": {
         "x": {"field": "x", "type": "quantitative", "scale": {"domain": [0, 1]}, "axis": {"title": "CCL2", "titleFontSize": 17, "titleX": 94, "titlePadding": 14, "labels": false, "domain": false, "tickColor": "#666", "tickWidth": 1, "tickSize": 3, "values": [0.02,0.1,0.16,0.2,0.23,0.27,0.333,0.37,0.396,0.417,0.433,0.447,0.46,0.47,0.48,0.543,0.58,0.606,0.627,0.643,0.657,0.67,0.68,0.69,0.753,0.79,0.816,0.837,0.853,0.867,0.88,0.89,0.9,0.963]}},
         "y": {"field": "y", "type": "quantitative", "scale": {"domain": [0, 1]}, "axis": {"title": "EGFP (ECTV)", "titleFontSize": 20, "titlePadding": 8, "labels": false, "domain": false, "tickColor": "#666", "tickWidth": 1, "tickSize": 4, "values": [0.1, 0.2, 0.45, 0.69, 0.91]}},
         "size": {"field": "s", "type": "quantitative", "scale": {"type": "pow", "exponent": 2, "domain": [0, 0.5], "range": [0, 25921]}, "legend": null},
         "shape": {"field": "pop", "type": "nominal", "scale": {"domain": ["E_top", "E_bot", "E_tail"], "range": ["M 0.8 0 C 0.8 0.552 0.442 1 0 1 C -0.442 1 -0.8 0.552 -0.8 0 C -0.8 -0.552 -0.442 -1 0 -1 C 0.442 -1 0.8 -0.552 0.8 0 Z", "M 0.9 0 C 0.9 0.552 0.497 1 0 1 C -0.497 1 -0.9 0.552 -0.9 0 C -0.9 -0.552 -0.497 -1 0 -1 C 0.497 -1 0.9 -0.552 0.9 0 Z", "M 1 0 C 1 0.276 0.552 0.5 0 0.5 C -0.552 0.5 -1 0.276 -1 0 C -1 -0.276 -0.552 -0.5 0 -0.5 C 0.552 -0.5 1 -0.276 1 0 Z"]}, "legend": null}}},
       {"data": {"name": "gates"}, "transform": [{"filter": "datum.p == 'EGFP'"}], "mark": {"type": "rule", "color": "#8c9ccc", "strokeWidth": 1.2}, "encoding": {"x": {"field": "gx", "type": "quantitative"}}},
       {"data": {"name": "gates"}, "transform": [{"filter": "datum.p == 'EGFP'"}], "mark": {"type": "rule", "color": "#8c9ccc", "strokeWidth": 1.2}, "encoding": {"y": {"field": "gy", "type": "quantitative"}}},
       {"data": {"name": "quads"}, "transform": [{"filter": "datum.p == 'EGFP' && datum.q == 'UL'"}], "mark": {"type": "text", "align": "left", "baseline": "middle", "fontSize": 21, "dx": 3, "dy": 14, "color": "black"}, "encoding": {"x": {"datum": 0, "type": "quantitative"}, "y": {"datum": 1, "type": "quantitative"}, "text": {"field": "t"}}},
       {"data": {"name": "quads"}, "transform": [{"filter": "datum.p == 'EGFP' && datum.q == 'UR'"}], "mark": {"type": "text", "align": "right", "baseline": "middle", "fontSize": 21, "dx": -4, "dy": 14, "color": "black"}, "encoding": {"x": {"datum": 1, "type": "quantitative"}, "y": {"datum": 1, "type": "quantitative"}, "text": {"field": "t"}}},
       {"data": {"name": "quads"}, "transform": [{"filter": "datum.p == 'EGFP' && datum.q == 'LL'"}], "mark": {"type": "text", "align": "left", "baseline": "middle", "fontSize": 21, "dx": 3, "dy": -16, "color": "black"}, "encoding": {"x": {"datum": 0, "type": "quantitative"}, "y": {"datum": 0, "type": "quantitative"}, "text": {"field": "t"}}},
       {"data": {"name": "quads"}, "transform": [{"filter": "datum.p == 'EGFP' && datum.q == 'LR'"}], "mark": {"type": "text", "align": "right", "baseline": "middle", "fontSize": 21, "dx": -5, "dy": -16, "color": "black"}, "encoding": {"x": {"datum": 1, "type": "quantitative"}, "y": {"datum": 0, "type": "quantitative"}, "text": {"field": "t"}}}
      ]}
    ]}
  ]
 }
],
"spacing": 20
}
